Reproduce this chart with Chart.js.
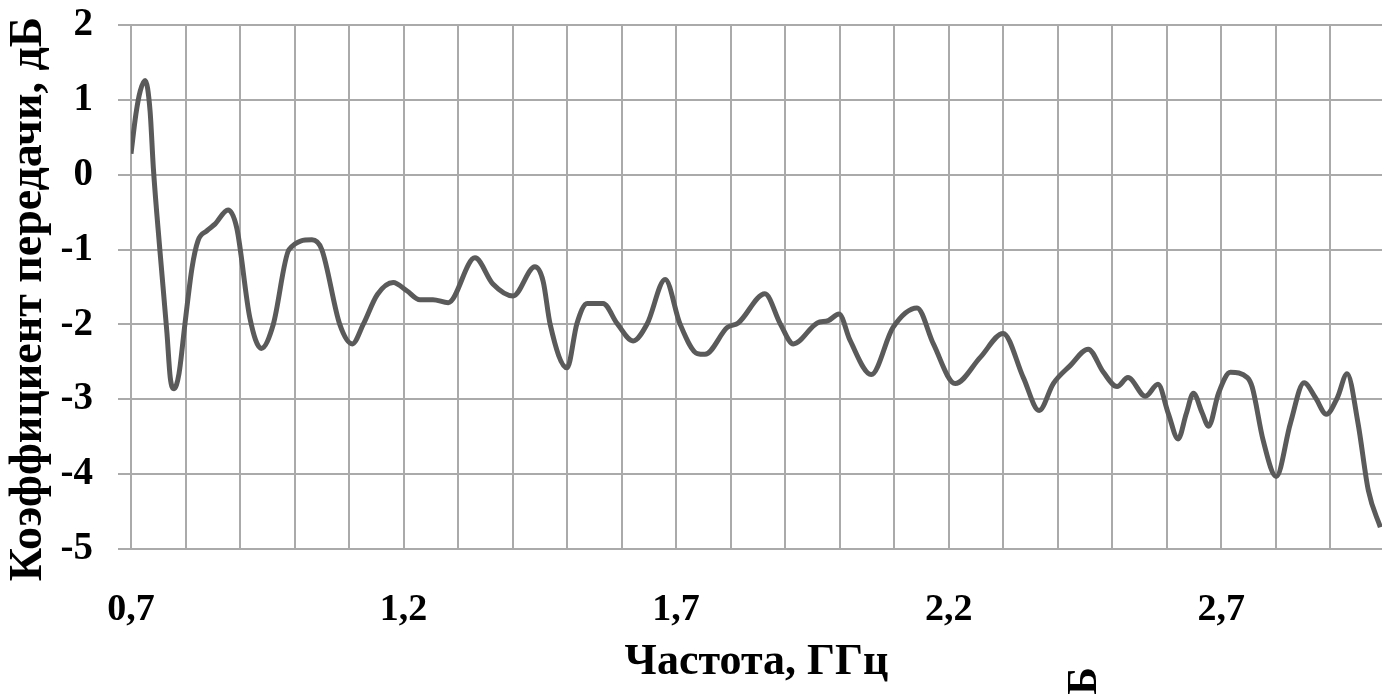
<!DOCTYPE html>
<html><head><meta charset="utf-8">
<script src="https://cdn.jsdelivr.net/npm/chart.js@4.4.1/dist/chart.umd.min.js"></script>
<style>html,body{margin:0;padding:0;background:#fff;overflow:hidden}#wrap{width:1382px;height:694px}</style>
</head><body><div id="wrap"><canvas id="c" width="1382" height="694"></canvas></div>
<script>
// Frequency, GHz
const freqGHz = [0.700,0.709,0.717,0.726,0.735,0.741,0.753,0.766,0.772,0.779,0.788,0.799,0.812,0.823,0.839,0.854,0.878,0.894,0.918,0.939,0.961,0.990,1.032,1.050,1.083,1.106,1.126,1.152,1.181,1.206,1.230,1.254,1.282,1.331,1.364,1.401,1.441,1.456,1.469,1.500,1.518,1.537,1.566,1.592,1.621,1.647,1.680,1.707,1.739,1.753,1.794,1.814,1.863,1.891,1.915,1.959,1.979,1.999,2.019,2.058,2.098,2.142,2.172,2.212,2.258,2.300,2.337,2.366,2.392,2.423,2.456,2.484,2.509,2.529,2.561,2.584,2.603,2.621,2.636,2.649,2.665,2.677,2.695,2.717,2.748,2.757,2.777,2.801,2.827,2.852,2.873,2.893,2.913,2.931,2.951,2.970,2.992];
// Transmission coefficient, dB
const gainDb = [0.28,0.81,1.12,1.26,0.85,0.09,-1.01,-2.12,-2.71,-2.86,-2.66,-1.99,-1.24,-0.88,-0.75,-0.66,-0.47,-0.71,-1.91,-2.32,-2.00,-1.00,-0.87,-1.00,-2.00,-2.26,-2.00,-1.60,-1.44,-1.55,-1.67,-1.67,-1.71,-1.11,-1.46,-1.62,-1.23,-1.42,-2.00,-2.58,-1.99,-1.72,-1.72,-1.99,-2.22,-1.99,-1.40,-1.99,-2.39,-2.40,-2.04,-1.98,-1.59,-1.99,-2.26,-1.98,-1.95,-1.86,-2.21,-2.67,-2.04,-1.78,-2.26,-2.79,-2.44,-2.12,-2.71,-3.15,-2.79,-2.55,-2.33,-2.64,-2.83,-2.71,-2.96,-2.80,-3.19,-3.53,-3.19,-2.92,-3.18,-3.36,-2.92,-2.64,-2.71,-2.84,-3.55,-4.03,-3.32,-2.78,-2.98,-3.20,-2.98,-2.66,-3.32,-4.22,-4.71];
// Axis ticks
const xGridValues = [0.7,0.8,0.9,1.0,1.1,1.2,1.3,1.4,1.5,1.6,1.7,1.8,1.9,2.0,2.1,2.2,2.3,2.4,2.5,2.6,2.7,2.8,2.9];
const xLabelValues = [0.7,1.2,1.7,2.2,2.7];
const xLabelTexts = ['0,7','1,2','1,7','2,2','2,7'];
const yTickValues = [-5,-4,-3,-2,-1,0,1,2];
const xTitle = 'Частота, ГГц';
const yTitle = 'Коэффициент передачи, дБ';
const strayText = 'дБ';

const SERIF = '"Liberation Serif", "DejaVu Serif", serif';

const textPlugin = {
  id: 'extraText',
  afterDraw(chart) {
    const ctx = chart.ctx;
    // y axis title
    ctx.save();
    ctx.translate(29, 299);
    ctx.rotate(-Math.PI / 2);
    ctx.font = 'bold 46px ' + SERIF;
    ctx.fillStyle = '#000';
    ctx.textAlign = 'center';
    ctx.textBaseline = 'middle';
    ctx.fillText(yTitle, 0, 0);
    ctx.restore();
    // stray fragment at the bottom
    ctx.save();
    ctx.translate(1085, 667);
    ctx.rotate(-Math.PI / 2);
    ctx.font = 'bold 42px ' + SERIF;
    ctx.fillStyle = '#000';
    ctx.textAlign = 'right';
    ctx.textBaseline = 'middle';
    ctx.fillText(strayText, 0, 0);
    ctx.restore();
  }
};

new Chart(document.getElementById('c'), {
  type: 'line',
  data: {
    datasets: [{
      data: freqGHz.map((f, i) => ({ x: f, y: gainDb[i] })),
      borderColor: '#5a5a5a',
      borderWidth: 5,
      pointRadius: 0,
      fill: false,
      cubicInterpolationMode: 'monotone'
    }]
  },
  options: {
    responsive: false,
    animation: false,
    devicePixelRatio: 1,
    layout: { padding: { top: 25, left: 0, right: 0, bottom: 0 } },
    plugins: { legend: { display: false }, tooltip: { enabled: false } },
    scales: {
      x: {
        type: 'linear',
        min: 0.7,
        max: 2.995,
        afterBuildTicks(s) { s.ticks = xGridValues.map(v => ({ value: v })); },
        afterFit(s) { s.height = 145; s.paddingLeft = 0; s.paddingRight = 0; },
        ticks: {
          autoSkip: false,
          maxRotation: 0,
          padding: 38,
          color: '#000',
          font: { family: SERIF, size: 38, weight: 'bold' },
          callback(v) {
            const k = xLabelValues.findIndex(t => Math.abs(t - v) < 1e-6);
            return k >= 0 ? xLabelTexts[k] : '';
          }
        },
        grid: { color: '#aaaaaa', lineWidth: 2, drawTicks: false },
        border: { display: false },
        title: {
          display: true, text: xTitle, color: '#000',
          font: { family: SERIF, size: 44, weight: 'bold' },
          padding: { top: 0, bottom: 5 }
        }
      },
      y: {
        min: -5,
        max: 2,
        afterBuildTicks(s) { s.ticks = yTickValues.map(v => ({ value: v })); },
        afterFit(s) { s.width = 131; s.paddingTop = 0; s.paddingBottom = 0; },
        ticks: {
          padding: 25,
          color: '#000',
          font: { family: SERIF, size: 39, weight: 'bold' }
        },
        grid: { color: '#aaaaaa', lineWidth: 2, drawTicks: true, tickLength: 13 },
        border: { display: false },
        title: { display: false, text: yTitle }
      }
    }
  },
  plugins: [textPlugin]
});
</script></body></html>
